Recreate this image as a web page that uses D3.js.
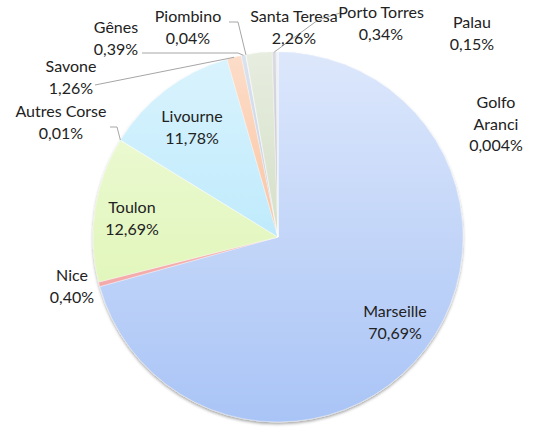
<!DOCTYPE html>
<html lang="en">
<head>
  <meta charset="UTF-8">
  <title>Ports pie</title>
  <style>
    body { margin: 0; background: #fff; }
    svg { display: block; }
    text { font-family: Lato, "Open Sans", sans-serif; font-size: 16px; fill: #222; }
  </style>
</head>
<body>
  <svg width="534" height="434"></svg>
  <script src="https://d3js.org/d3.v7.min.js"></script>
  <script>
    // data, clockwise from 12 o'clock
    var ports = ['Marseille', 'Nice', 'Toulon', 'Autres Corse', 'Livourne', 'Savone', 'Gênes',
      'Piombino', 'Santa Teresa', 'Porto Torres', 'Palau', 'Golfo Aranci'];
    var shares = [70.69, 0.40, 12.69, 0.01, 11.78, 1.26, 0.39, 0.04, 2.26, 0.34, 0.15, 0.004];
    var shareLabels = ['70,69%', '0,40%', '12,69%', '0,01%', '11,78%', '1,26%', '0,39%',
      '0,04%', '2,26%', '0,34%', '0,15%', '0,004%'];
    var colors = ['#a9c4f6', '#f19191', '#d9f4a8', '#d9f4a8', '#a4e2fb', '#f9ab7a', '#a6b9d7',
      '#b5bcc8', '#c3d2b0', '#a1a6b4', '#b9c1d3', '#a9c4f6'];

    var cx = 278, cy = 237, r = 185;
    var lineH = 21.5;

    // label placement (center x, first baseline), and leader bends
    var labelPos = {
      'Marseille': [395, 317], 'Nice': [72, 281], 'Toulon': [132, 213],
      'Autres Corse': [61, 117], 'Livourne': [192, 122], 'Savone': [71, 72],
      'Gênes': [116, 33], 'Piombino': [188, 22], 'Santa Teresa': [294, 22],
      'Porto Torres': [381, 18], 'Palau': [472, 28], 'Golfo Aranci': [496, 108]
    };
    var leaders = {
      'Autres Corse': [[110, 127], [117, 127]],
      'Savone': [[95, 85]],
      'Gênes': [[142, 53], [238, 53]],
      'Piombino': [[229, 22], [238, 22]],
      'Porto Torres': [[340, 13], [318, 20]]
    };

    var svg = d3.select('svg');
    var defs = svg.append('defs');

    var shade = defs.append('linearGradient')
      .attr('id', 'shade')
      .attr('gradientUnits', 'userSpaceOnUse')
      .attr('x1', 0).attr('x2', 0)
      .attr('y1', cy - r).attr('y2', cy + r);
    shade.append('stop').attr('offset', 0).attr('stop-color', '#fff').attr('stop-opacity', 0.6);
    shade.append('stop').attr('offset', 1).attr('stop-color', '#fff').attr('stop-opacity', 0);

    var shadow = defs.append('filter').attr('id', 'shadow')
      .attr('x', '-10%').attr('y', '-10%').attr('width', '120%').attr('height', '120%');
    shadow.append('feDropShadow')
      .attr('dx', 0).attr('dy', 2).attr('stdDeviation', 1.8)
      .attr('flood-color', '#000').attr('flood-opacity', 0.35);

    var data = ports.map((p, i) => ({ name: p, value: shares[i], label: shareLabels[i], color: colors[i] }));

    var pie = d3.pie().sort(null).value(d => d.value);
    var arcs = pie(data);
    var arc = d3.arc().innerRadius(0).outerRadius(r);

    var g = svg.append('g')
      .attr('transform', 'translate(' + [cx, cy] + ')')
      .attr('filter', 'url(#shadow)');

    g.selectAll('path.slice')
      .data(arcs)
      .enter().append('path')
      .attr('class', 'slice')
      .attr('d', arc)
      .attr('fill', d => d.data.color)
      .attr('stroke', '#fff')
      .attr('stroke-opacity', 0.6)
      .attr('stroke-width', 0.6);

    // top-light shading across the whole pie
    svg.append('circle')
      .attr('cx', cx).attr('cy', cy).attr('r', r)
      .attr('fill', 'url(#shade)');

    // leader lines end on the slice's outer edge
    arcs.forEach(a => {
      var bends = leaders[a.data.name];
      if (!bends) return;
      var mid = (a.startAngle + a.endAngle) / 2;
      var end = [cx + r * Math.sin(mid), cy - r * Math.cos(mid)];
      svg.append('path')
        .attr('d', d3.line()(bends.concat([end])))
        .attr('fill', 'none')
        .attr('stroke', '#a6a6a6')
        .attr('stroke-width', 1);
    });

    // labels
    arcs.forEach(a => {
      var pos = labelPos[a.data.name];
      var lines = a.data.name === 'Golfo Aranci' ? ['Golfo', 'Aranci'] : [a.data.name];
      lines = lines.concat([a.data.label]);
      var t = svg.append('text')
        .attr('text-anchor', 'middle');
      lines.forEach((s, i) => {
        t.append('tspan')
          .attr('x', pos[0])
          .attr('y', pos[1] + i * lineH)
          .text(s);
      });
    });
  </script>
</body>
</html>
